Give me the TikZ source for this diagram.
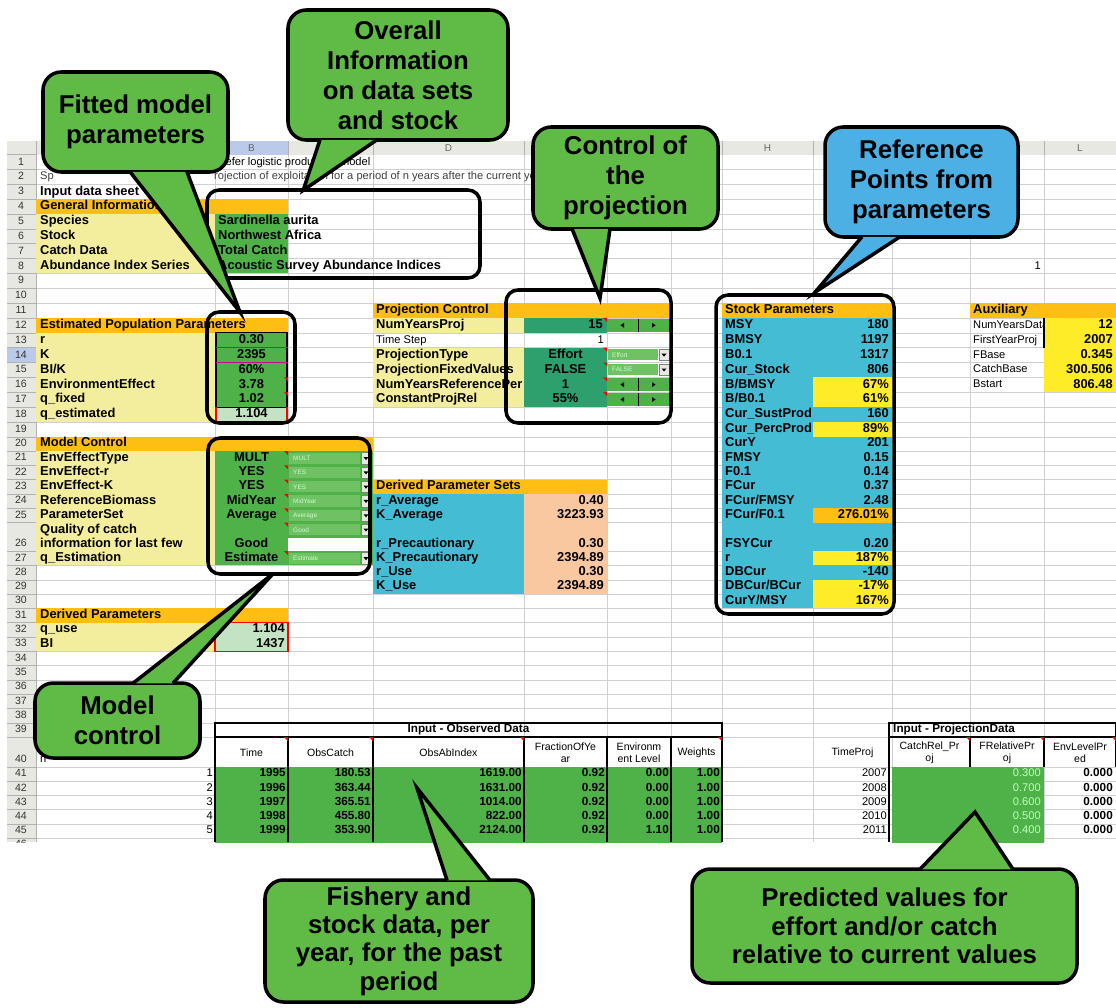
\documentclass[tikz,border=0pt]{standalone}
\usepackage{fontspec}
\setmainfont{Liberation Sans}
\usetikzlibrary{calc}

\definecolor{xlyellow}{RGB}{243,237,158}
\definecolor{xlorange}{RGB}{255,190,20}
\definecolor{xlgreen}{RGB}{78,178,72}
\definecolor{xlteal}{RGB}{45,160,110}
\definecolor{xlcyan}{RGB}{68,188,212}
\definecolor{xlpeach}{RGB}{250,200,160}
\definecolor{xlbright}{RGB}{255,236,40}
\definecolor{xlpale}{RGB}{196,226,196}
\definecolor{xlgrid}{RGB}{208,208,208}
\definecolor{xlhead}{RGB}{232,232,226}
\definecolor{xlsel}{RGB}{186,202,232}
\definecolor{ddgreen}{RGB}{112,192,100}
\definecolor{calgreen}{RGB}{96,186,70}
\definecolor{calblue}{RGB}{76,176,228}

\newcommand{\px}{0.03cm}

% top edge of sheet row n, in pixels
\pgfmathdeclarefunction{rowtop}{1}{%
  \pgfmathparse{(#1<19.5)*(154.6+(#1-1)*14.85)+(#1>19.5)*(#1<26.5)*(436.75+(#1-20)*14.3)+(#1>26.5)*(#1<40.5)*(436.75+(#1-19)*14.3)+(#1>40.5)*(767+(#1-41)*14.2)}%
}
% text line of sheet row n (bottom aligned like the sheet)
\pgfmathdeclarefunction{rowy}{1}{\pgfmathparse{rowtop(#1+1)-7.3}}

\newcommand{\cellfill}[5]{\fill[#1] (#2,{rowtop(#4)}) rectangle (#3,{rowtop(#5+1)});}
\newcommand{\redmark}[2]{\fill[red] (#1-4,{rowtop(#2)}) -- (#1,{rowtop(#2)}) -- (#1,{rowtop(#2)+4}) -- cycle;}
\newcommand{\dropbox}[5]{%
  \fill[ddgreen] (#2+1,{rowtop(#4)+1.5}) rectangle (#3-13,{rowtop(#4)+12.8});
  \node[tinytext,anchor=west] (#1) at (#2+5,{rowtop(#4)+7.2}) {#5};
  \filldraw[fill=xlhead,draw=gray] (#3-12,{rowtop(#4)+1.5}) rectangle (#3-2,{rowtop(#4)+12.8});
  \fill (#3-9.5,{rowtop(#4)+6}) -- (#3-4.5,{rowtop(#4)+6}) -- (#3-7,{rowtop(#4)+9}) -- cycle;}
\newcommand{\spinbox}[3]{%
  \fill[xlgreen] (#1,{rowtop(#3)+1}) rectangle (#2,{rowtop(#3+1)-1});
  \draw[line width=0.8pt] ({(#1+#2)/2},{rowtop(#3)+1}) -- ({(#1+#2)/2},{rowtop(#3+1)-1});
  \draw[line width=0.8pt] (#2,{rowtop(#3)+1}) -- (#2,{rowtop(#3+1)-1});
  \fill ({#1+(#2-#1)/4-2},{rowtop(#3)+7.3}) -- ({#1+(#2-#1)/4+1.5},{rowtop(#3)+4.8}) -- ({#1+(#2-#1)/4+1.5},{rowtop(#3)+9.8}) -- cycle;
  \fill ({#2-(#2-#1)/4+2},{rowtop(#3)+7.3}) -- ({#2-(#2-#1)/4-1.5},{rowtop(#3)+4.8}) -- ({#2-(#2-#1)/4-1.5},{rowtop(#3)+9.8}) -- cycle;}
\newcommand{\callpointer}[4]{%
  \fill[#1] #2 -- #3 -- #4 -- cycle;
  \draw[line width=3pt] #2 -- #3 -- #4;}

\tikzset{
  cellb/.style={font=\fontsize{11}{12}\selectfont\bfseries, inner sep=0pt, text height=7.5pt, text depth=2pt},
  celln/.style={font=\fontsize{9.5}{11}\selectfont, inner sep=0pt, text height=7pt, text depth=2pt},
  cellt/.style={font=\fontsize{10}{11}\selectfont\bfseries, inner sep=0pt, text height=7pt, text depth=2pt},
  headtxt/.style={font=\fontsize{9}{10}\selectfont, inner sep=0pt, align=center},
  rownum/.style={font=\fontsize{9}{10}\selectfont, inner sep=0pt, text height=6.5pt, text depth=1.5pt, text=black!80},
  colhead/.style={font=\fontsize{8.5}{10}\selectfont, inner sep=0pt, text=black!60},
  tinytext/.style={font=\fontsize{5.5}{6}\selectfont, inner sep=0pt, text=white!80!green},
  frame/.style={draw, line width=3pt, rounded corners=0.36cm, inner sep=0pt},
  callout/.style={draw, line width=3pt, fill=calgreen, rounded corners=0.55cm, align=center, inner sep=0pt,
    font=\fontsize{22}{25.6}\selectfont\bfseries},
  calllow/.style={callout, font=\fontsize{22}{24.2}\selectfont\bfseries}
}

\begin{document}
\begin{tikzpicture}[x=\px,y=-\px]
	\useasboundingbox[fill=white] (0,0) rectangle (1116,1008);

	% Sheet
	\begin{scope}
	\clip (7,141) rectangle (1116,842);
	%grid
	\foreach \r in {1,...,47}
		\draw[xlgrid] (36,{rowtop(\r)}) -- (1116,{rowtop(\r)});
	\foreach \x in {215,288,373,524,607,671,722,813,892,970,1044}
		\draw[xlgrid] (\x,154) -- (\x,842);
	%headers
	\fill[xlhead] (7,141) rectangle (1116,154.6);
	\fill[xlhead] (7,154.6) rectangle (36,842);
	\fill[xlsel] (215,141) rectangle (288,154.6);
	\fill[xlsel] (7,{rowtop(14)}) rectangle (36,{rowtop(15)});
	\foreach \x in {36,215,288,373,524,607,671,722,813,892,970,1044}
		\draw[gray!60] (\x,141) -- (\x,154.6);
	\foreach \r in {1,...,47}
		\draw[gray!60] (7,{rowtop(\r)}) -- (36,{rowtop(\r)});
	\draw[gray!60] (36,141) -- (36,842);
	\foreach \r in {1,...,46}
		\node[rownum] (n\r) at (21,{rowy(\r)}) {\r};
	\foreach \x/\c in {251.5/B,448.5/D,767.5/H,1080/L}
		\node[colhead] (h\c) at (\x,148) {\c};

	%cell colours
	\cellfill{xlorange}{36}{288}{4}{4}
	\cellfill{xlyellow}{36}{215}{5}{8}
	\cellfill{xlgreen}{215}{288}{5}{8}
	\cellfill{xlorange}{36}{288}{12}{12}
	\cellfill{xlyellow}{36}{215}{13}{18}
	\cellfill{xlgreen}{215}{288}{13}{17}
	\cellfill{xlpale}{215}{288}{18}{18}
	\cellfill{xlorange}{36}{373}{20}{20}
	\cellfill{xlyellow}{36}{215}{21}{27}
	\cellfill{xlgreen}{215}{373}{21}{27}
	\cellfill{xlorange}{36}{288}{31}{31}
	\cellfill{xlyellow}{36}{215}{32}{33}
	\cellfill{xlpale}{215}{288}{32}{33}
	\cellfill{xlorange}{373}{671}{11}{11}
	\cellfill{xlyellow}{373}{524}{12}{12}
	\cellfill{xlteal}{524}{607}{12}{12}
	\cellfill{xlyellow}{373}{524}{14}{17}
	\cellfill{xlteal}{524}{607}{14}{17}
	\cellfill{xlorange}{373}{607}{23}{23}
	\cellfill{xlcyan}{373}{524}{24}{29}
	\cellfill{xlpeach}{524}{607}{24}{29}
	\cellfill{xlorange}{722}{892}{11}{11}
	\cellfill{xlcyan}{722}{892}{12}{30}
	\foreach \r in {16,17,19,27,29,30}{
		\cellfill{xlbright}{813}{892}{\r}{\r}
	}
	\cellfill{xlorange}{813}{892}{25}{25}
	\cellfill{xlorange}{970}{1116}{11}{11}
	\cellfill{xlbright}{1044}{1116}{12}{16}
	\cellfill{xlgreen}{215}{722}{41}{46}
	\cellfill{xlgreen}{892}{1044}{41}{46}
	\fill[white] (288,{rowtop(26)+15}) rectangle (370,{rowtop(27)});

	%borders
	\draw[line width=0.9pt] (216,{rowtop(13)}) rectangle (287,{rowtop(18)});
	\draw[magenta!80!blue, line width=0.9pt] (216,{rowtop(14)}) -- (287,{rowtop(14)}) (216,{rowtop(15)}) -- (287,{rowtop(15)});
	\draw[red, line width=1.2pt] (216,{rowtop(18)}) -- (216,{rowtop(19)}) (287,{rowtop(18)}) -- (287,{rowtop(19)});
	\draw[red, line width=1.2pt] (215,{rowtop(32)}) rectangle (288,{rowtop(34)});
	\draw[line width=1pt] (1044,{rowtop(12)}) -- (1044,{rowtop(14)});
	\draw[line width=1.3pt] (215,{rowtop(39)}) rectangle (722,{rowtop(40)});
	\foreach \x in {215,288,373,524,607,671,722}
		\draw[line width=0.9pt] (\x,{rowtop(40)}) -- (\x,842);
	\draw[line width=1.3pt] (889,{rowtop(39)}) rectangle (1116,{rowtop(40)});
	\foreach \x in {889,970,1044,1116}
		\draw[line width=0.9pt] (\x,{rowtop(40)}) -- (\x,{rowtop(41)});
	\draw[line width=1.3pt] (889,{rowtop(41)}) -- (889,842);

	%controls
	\spinbox{607}{669}{12}
	\spinbox{607}{669}{16}
	\spinbox{607}{669}{17}
	\dropbox{f14}{607}{671}{14}{Effort}
	\dropbox{f15}{607}{671}{15}{FALSE}
	\foreach \r/\txt in {21/MULT,22/YES,23/YES,24/MidYear,25/Average,26/Good,27/Estimate}{
		\dropbox{c\r}{288}{373}{\r}{\txt}
	}
	\foreach \r in {16,17,21,22,23,24,25,26,27}{
		\redmark{288}{\r}
	}
	\foreach \r in {12,14,15,16,17}{
		\redmark{607}{\r}
	}
	\foreach \x in {288,373,524,722,970,1044,1116}{
		\redmark{\x}{40}
	}

	%title lines
	\node[celln,anchor=west] (t1) at (200,{rowy(1)}) {Schaefer logistic production model};
	\node[celln,anchor=west,text=black!75] (t2a) at (40,{rowy(2)}) {Sp};
	\node[celln,anchor=west,text=black!75] (t2b) at (214,{rowy(2)}) {rojection of exploitation for a period of n years after the current year};

	%column A
	\foreach \r/\txt in {3/Input data sheet,4/General Information,5/Species,6/Stock,7/Catch Data,8/Abundance Index Series,
		12/Estimated Population Parameters,13/r,14/K,15/{BI/K},16/EnvironmentEffect,17/q\_fixed,18/q\_estimated,
		20/Model Control,21/EnvEffectType,22/EnvEffect-r,23/EnvEffect-K,24/ReferenceBiomass,25/ParameterSet,
		27/q\_Estimation,31/Derived Parameters,32/q\_use,33/BI}
		\node[cellb,anchor=west] (a\r) at (40,{rowy(\r)}) {\txt};
	\node[cellb,anchor=west] (a26a) at (40,{rowtop(26)+7.3}) {Quality of catch};
	\node[cellb,anchor=west] (a26b) at (40,{rowy(26)}) {information for last few};
	\node[celln,anchor=west] (a40) at (40,{rowy(40)}) {n};

	%column B
	\foreach \r/\txt in {5/Sardinella aurita,6/Northwest Africa,7/Total Catch,8/Acoustic Survey Abundance Indices}
		\node[cellb,anchor=west] (b\r) at (218,{rowy(\r)}) {\txt};
	\foreach \r/\txt in {13/0.30,14/2395,15/60\%,16/3.78,17/1.02,18/1.104,21/MULT,22/YES,23/YES,24/MidYear,25/Average,26/Good,27/Estimate}
		\node[cellb] (b\r) at (251.5,{rowy(\r)}) {\txt};
	\foreach \r/\txt in {32/1.104,33/1437}
		\node[cellb,anchor=east] (b\r) at (285,{rowy(\r)}) {\txt};

	%projection control
	\node[cellb,anchor=west] (d11) at (376,{rowy(11)}) {Projection Control};
	\begin{scope}
		\clip (373,{rowtop(12)}) rectangle (522,{rowtop(18)});
		\foreach \r/\txt in {12/NumYearsProj,14/ProjectionType,15/ProjectionFixedValues,16/NumYearsReferencePeriod,17/ConstantProjRel}
			\node[cellb,anchor=west] (d\r) at (376,{rowy(\r)}) {\txt};
	\end{scope}
	\node[celln,anchor=west] (d13) at (376,{rowy(13)}) {Time Step};
	\node[cellb,anchor=east] (e12) at (603,{rowy(12)}) {15};
	\node[celln,anchor=east] (e13) at (604,{rowy(13)}) {1};
	\foreach \r/\txt in {14/Effort,15/FALSE,16/1,17/55\%}
		\node[cellb] (e\r) at (565.5,{rowy(\r)}) {\txt};

	%derived parameter sets
	\node[cellb,anchor=west] (d23) at (376,{rowy(23)}) {Derived Parameter Sets};
	\foreach \r/\txt/\val in {24/r\_Average/0.40,25/K\_Average/3223.93,26/r\_Precautionary/0.30,27/K\_Precautionary/2394.89,28/r\_Use/0.30,29/K\_Use/2394.89}{
		\node[cellb,anchor=west] (d\r) at (376,{rowy(\r)}) {\txt};
		\node[cellb,anchor=east] (e\r) at (604,{rowy(\r)}) {\val};
	}

	%stock parameters
	\node[cellb,anchor=west] (h11) at (725,{rowy(11)}) {Stock Parameters};
	\begin{scope}
		\clip (722,{rowtop(12)}) rectangle (811,{rowtop(31)});
		\foreach \r/\txt in {12/MSY,13/BMSY,14/B0.1,15/Cur\_Stock,16/{B/BMSY},17/{B/B0.1},18/Cur\_SustProd,19/Cur\_PercProd,20/CurY,21/FMSY,22/F0.1,23/FCur,24/{FCur/FMSY},25/{FCur/F0.1},26/FSYCur,27/r,28/DBCur,29/{DBCur/BCur},30/{CurY/MSY}}
			\node[cellb,anchor=west] (h\r) at (725,{rowy(\r)}) {\txt};
	\end{scope}
	\foreach \r/\txt in {12/180,13/1197,14/1317,15/806,16/67\%,17/61\%,18/160,19/89\%,20/201,21/0.15,22/0.14,23/0.37,24/2.48,25/276.01\%,26/0.20,27/187\%,28/-140,29/-17\%,30/167\%}
		\node[cellb,anchor=east] (i\r) at (889,{rowy(\r)}) {\txt};

	%auxiliary
	\node[celln,anchor=east] (k8) at (1041,{rowy(8)}) {1};
	\node[cellb,anchor=west] (k11) at (973,{rowy(11)}) {Auxiliary};
	\begin{scope}
		\clip (970,{rowtop(12)}) rectangle (1043,{rowtop(17)});
		\foreach \r/\txt in {12/NumYearsData,13/FirstYearProj,14/FBase,15/CatchBase,16/Bstart}
			\node[celln,anchor=west] (k\r) at (973,{rowy(\r)}) {\txt};
	\end{scope}
	\foreach \r/\txt in {12/12,13/2007,14/0.345,15/300.506,16/806.48}
		\node[cellb,anchor=east] (l\r) at (1113,{rowy(\r)}) {\txt};

	%observed data
	\node[cellt] (b39) at (468.5,{rowy(39)}) {Input - Observed Data};
	\foreach \x/\txt in {251.5/Time,330.5/ObsCatch,448.5/ObsAbIndex,565.5/FractionOfYe\\ar,639/Environm\\ent Level,696.5/Weights,852.5/TimeProj,929.5/CatchRel\_Pr\\oj,1007/FRelativePr\\oj,1080/EnvLevelPr\\ed}
		\node[headtxt] (x\x) at (\x,753) {\txt};
	\node[cellt,anchor=west] (j39) at (893,{rowy(39)}) {Input - ProjectionData};
	\foreach \r/\vi/\vy/\vc/\va/\vf/\ve/\vw/\vt/\vp in {41/1/1995/180.53/1619.00/0.92/0.00/1.00/2007/0.300,
		42/2/1996/363.44/1631.00/0.92/0.00/1.00/2008/0.700,43/3/1997/365.51/1014.00/0.92/0.00/1.00/2009/0.600,
		44/4/1998/455.80/822.00/0.92/0.00/1.00/2010/0.500,45/5/1999/353.90/2124.00/0.92/1.10/1.00/2011/0.400}{
		\node[celln,anchor=east] (a\r) at (213,{rowy(\r)}) {\vi};
		\node[cellt,anchor=east] (b\r) at (286,{rowy(\r)}) {\vy};
		\node[cellt,anchor=east] (c\r) at (371,{rowy(\r)}) {\vc};
		\node[cellt,anchor=east] (d\r) at (522,{rowy(\r)}) {\va};
		\node[cellt,anchor=east] (e\r) at (605,{rowy(\r)}) {\vf};
		\node[cellt,anchor=east] (f\r) at (669,{rowy(\r)}) {\ve};
		\node[cellt,anchor=east] (g\r) at (720,{rowy(\r)}) {\vw};
		\node[celln,anchor=east] (i\r) at (887,{rowy(\r)}) {\vt};
		\node[celln,anchor=east,text=white!75!green] (k\r) at (1041,{rowy(\r)}) {\vp};
		\node[cellt,anchor=east] (l\r) at (1113,{rowy(\r)}) {0.000};
	}
	\end{scope}

	% Frames round the cell groups
	\node[frame, minimum width=273*\px, minimum height=88*\px] (fInfo) at (343.5,234) {};
	\node[frame, minimum width=88*\px, minimum height=111*\px] (fFit) at (251,367.5) {};
	\node[frame, minimum width=165*\px, minimum height=133*\px] (fProj) at (588.5,356.5) {};
	\node[frame, minimum width=178*\px, minimum height=319*\px] (fStock) at (805,454.5) {};
	\node[frame, minimum width=162*\px, minimum height=136*\px] (fModel) at (289,506) {};

	% Callouts
	\coordinate (tFit) at ($(fFit.north)+(-11,2)$);
	\coordinate (tInfo) at ($(fInfo.north west)+(98,2)$);
	\coordinate (tCtrl) at ($(fProj.north)+(11.5,10)$);
	\coordinate (tRef) at ($(fStock.north)+(10,-1)$);
	\coordinate (tModel) at ($(fModel.south)+(-16,-2)$);
	\coordinate (tFish) at (417,788);
	\coordinate (tPred) at (975,812);

	\node[callout, minimum width=185*\px, minimum height=100*\px] (cFit) at (135.5,122) {Fitted model\\parameters};
	\callpointer{calgreen}{($(cFit.south)+(-5.5,-2)$)}{(tFit)}{($(cFit.south)+(51.5,-2)$)}
	\node[callout, minimum width=220*\px, minimum height=130*\px] (cInfo) at (398,75) {Overall\\Information\\on data sets\\and stock};
	\callpointer{calgreen}{($(cInfo.south)+(-78,-2)$)}{(tInfo)}{($(cInfo.south)+(-21,-2)$)}
	\node[callout, minimum width=185*\px, minimum height=102*\px] (cCtrl) at (625.5,178) {Control of\\the\\projection};
	\callpointer{calgreen}{($(cCtrl.south)+(-53.5,-2)$)}{(tCtrl)}{($(cCtrl.south)+(-15.5,-2)$)}
	\node[callout, fill=calblue, minimum width=193*\px, minimum height=110*\px] (cRef) at (921.5,182) {Reference\\Points from\\parameters};
	\callpointer{calblue}{($(cRef.south)+(-59.5,-2)$)}{(tRef)}{($(cRef.south)+(-21.5,-2)$)}
	\node[callout, minimum width=165*\px, minimum height=75*\px] (cModel) at (117.5,720.5) {Model\\control};
	\callpointer{calgreen}{($(cModel.north)+(15.5,2)$)}{(tModel)}{($(cModel.north)+(55.5,2)$)}
	\node[calllow, minimum width=268*\px, minimum height=122*\px] (cFish) at (399,941) {Fishery and\\stock data, per\\year, for the past\\period};
	\callpointer{calgreen}{($(cFish.north)+(48,2)$)}{(tFish)}{($(cFish.north)+(91,2)$)}
	\node[calllow, minimum width=385*\px, minimum height=114*\px] (cPred) at (884.5,926) {Predicted values for\\effort and/or catch\\relative to current values};
	\callpointer{calgreen}{($(cPred.north)+(35.5,2)$)}{(tPred)}{($(cPred.north)+(128.5,2)$)}
\end{tikzpicture}
\end{document}
